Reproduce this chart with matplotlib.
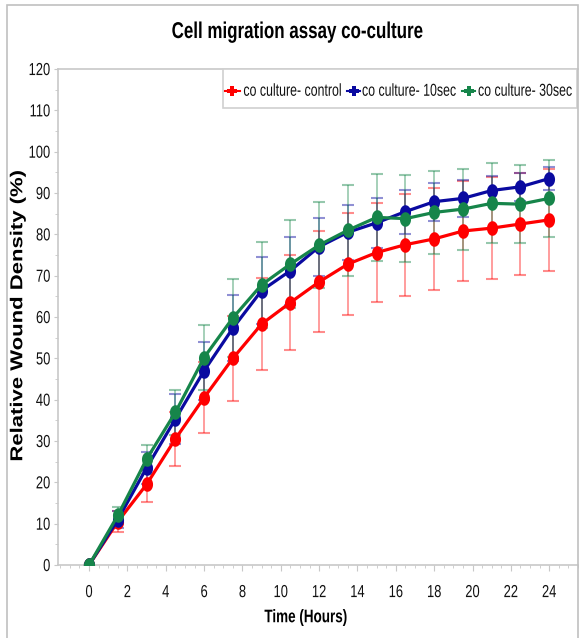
import matplotlib
matplotlib.use("Agg")
import matplotlib.pyplot as plt
import numpy as np
from matplotlib.lines import Line2D
from matplotlib.patches import Rectangle
from matplotlib.path import Path
from matplotlib.transforms import Affine2D
from matplotlib.patheffects import AbstractPathEffect
from matplotlib.ticker import MultipleLocator

plt.rcParams['font.family'] = ['Liberation Sans', 'DejaVu Sans']

time_h = [0, 1.5, 3, 4.5, 6, 7.5, 9, 10.5, 12, 13.5, 15, 16.5, 18, 19.5, 21, 22.5, 24]
control = [0, 10.5, 19.5, 30.5, 40.5, 50, 58.3, 63.5, 68.5, 72.8, 75.6, 77.5, 78.9, 80.8, 81.5, 82.5, 83.5]
control_err = [0, 2.5, 4.3, 6.6, 8.6, 10.3, 11.1, 11.6, 12.2, 12.3, 12.0, 12.3, 12.4, 12.2, 12.4, 12.3, 12.4]
sec10 = [0, 11, 23.5, 35.3, 47, 57.3, 66.4, 71.2, 77, 80.5, 82.8, 85.5, 87.9, 88.7, 90.6, 91.5, 93.5]
sec10_err = [0, 2, 3.9, 6, 7, 8, 8, 8.2, 7, 6.7, 6, 5.3, 4.6, 4.4, 3.5, 3.4, 2.7]
sec30 = [0, 12, 25.6, 36.9, 50.2, 59.8, 67.8, 72.8, 77.4, 81, 84.1, 83.8, 85.3, 86.1, 87.5, 87.3, 88.7]
sec30_err = [0, 2, 3.5, 5.5, 7.8, 9.5, 10.4, 10.6, 10.5, 11, 10.5, 10.5, 10, 9.8, 9.7, 9.5, 9.4]

labels = ['co culture- control', 'co culture- 10sec', 'co culture- 30sec']
colors = ['#ff0000', '#0a0aa0', '#16854a']
series = [(control, control_err), (sec10, sec10_err), (sec30, sec30_err)]


class Reshape(AbstractPathEffect):
    """Scale glyph outlines in the text's own frame about their centre
    (gives the tall, narrow look of the original condensed font)."""
    def __init__(self, sx=1.0, sy=1.0):
        super().__init__()
        self.sx, self.sy = sx, sy

    def draw_path(self, renderer, gc, tpath, affine, rgbFace=None):
        v = tpath.vertices
        if len(v):
            cx = 0.5 * (v[:, 0].min() + v[:, 0].max())
            cy = 0.5 * (v[:, 1].min() + v[:, 1].max())
        else:
            cx = cy = 0
        t = (Affine2D().translate(-cx, -cy).scale(self.sx, self.sy)
             .translate(cx, cy) + affine)
        renderer.draw_path(gc, tpath, t, rgbFace)


# elliptical marker (taller than wide)
th = np.linspace(0, 2 * np.pi, 60)
ellipse = Path(np.column_stack([0.76 * np.cos(th), np.sin(th)]), closed=True)

fig = plt.figure(figsize=(5.81, 6.38), dpi=100)
ax = fig.add_axes([58/581, 1-565/638, (578-58)/581, (565-69)/638])

for (vals, errs), c in zip(series, colors):
    ax.errorbar(time_h, vals, yerr=errs, fmt='none', ecolor=c, elinewidth=1.2,
                capsize=4.5, capthick=1.5, alpha=0.45, zorder=2)
for (vals, errs), c in zip(series, colors):
    ax.plot(time_h, vals, color=c, lw=2.3, marker=ellipse, markersize=10.5,
            markeredgewidth=0, zorder=3)

ax.set_xlim(-1.62, 25.5)
ax.set_ylim(0, 120)
ax.set_xticks(list(range(0, 25, 2)))
ax.set_yticks(list(range(0, 121, 10)))
ax.xaxis.set_minor_locator(MultipleLocator(0.5))
ax.yaxis.set_minor_locator(MultipleLocator(5))
ax.spines['right'].set_visible(False)
for s in ['left', 'bottom', 'top']:
    ax.spines[s].set_color('#c8c8c8')
    ax.spines[s].set_linewidth(1.2)
ax.tick_params(which='both', direction='out', color='#c8c8c8', labelsize=9.3,
               labelcolor='#111111')
ax.tick_params(axis='x', which='major', length=4.5, pad=11)
ax.tick_params(axis='x', which='minor', length=2)
ax.tick_params(axis='y', which='major', length=3, pad=2.5)
ax.tick_params(axis='y', which='minor', length=2)

ax.set_xlabel('Time (Hours)', fontsize=9.7, fontweight='bold', va='top')
ax.xaxis.set_label_coords((306 - 58) / 520, (565 - 612) / 496)
ax.set_ylabel('Relative Wound Density (%)', fontsize=15.9, fontweight='bold')
ax.yaxis.set_label_coords((28.5 - 58) / 520, (565 - 315.5) / 496)
title = fig.text(297/581, 1-32/638, 'Cell migration assay co-culture', ha='center',
                 va='center', fontsize=12.2, fontweight='bold')

# legend box
ax.add_patch(Rectangle((0.3173, 0.9214), 0.998 - 0.3173, 0.078, transform=ax.transAxes,
                       facecolor='white', edgecolor='#d0d0d0', lw=1.2, zorder=5,
                       clip_on=False))
hx = [(0.321, 0.350), (0.5558, 0.5808), (0.777, 0.802)]
tx = [0.3565, 0.5846, 0.8077]
ly = (565 - 91) / 496
leg_texts = []
for (x0, x1), xt, c, lab in zip(hx, tx, colors, labels):
    ax.add_line(Line2D([x0, 0.5 * (x0 + x1), x1], [ly, ly, ly], transform=ax.transAxes,
                       color=c, lw=1.5, marker='P', markersize=7, markeredgewidth=0,
                       markevery=[1], zorder=6, clip_on=False))
    leg_texts.append(ax.text(xt, ly, lab, transform=ax.transAxes, ha='left', va='center',
                             fontsize=8.9, color='#111111', zorder=7))

fig.patches.append(Rectangle((7/581, -0.01), (578-7)/581, 1-5/638 + 0.01,
                             transform=fig.transFigure, fill=False,
                             edgecolor='#c0c0c0', lw=1.2))

fig.canvas.draw()
tall = 1.35
for t in ax.get_xticklabels() + ax.get_yticklabels():
    t.set_path_effects([Reshape(1.0, tall)])
ax.xaxis.label.set_path_effects([Reshape(1.0, tall)])
ax.yaxis.label.set_path_effects([Reshape(1.0, 0.78)])
title.set_path_effects([Reshape(1.0, tall)])
for t in leg_texts:
    t.set_path_effects([Reshape(1.0, 1.40)])

fig.savefig('out.png', dpi=100)
